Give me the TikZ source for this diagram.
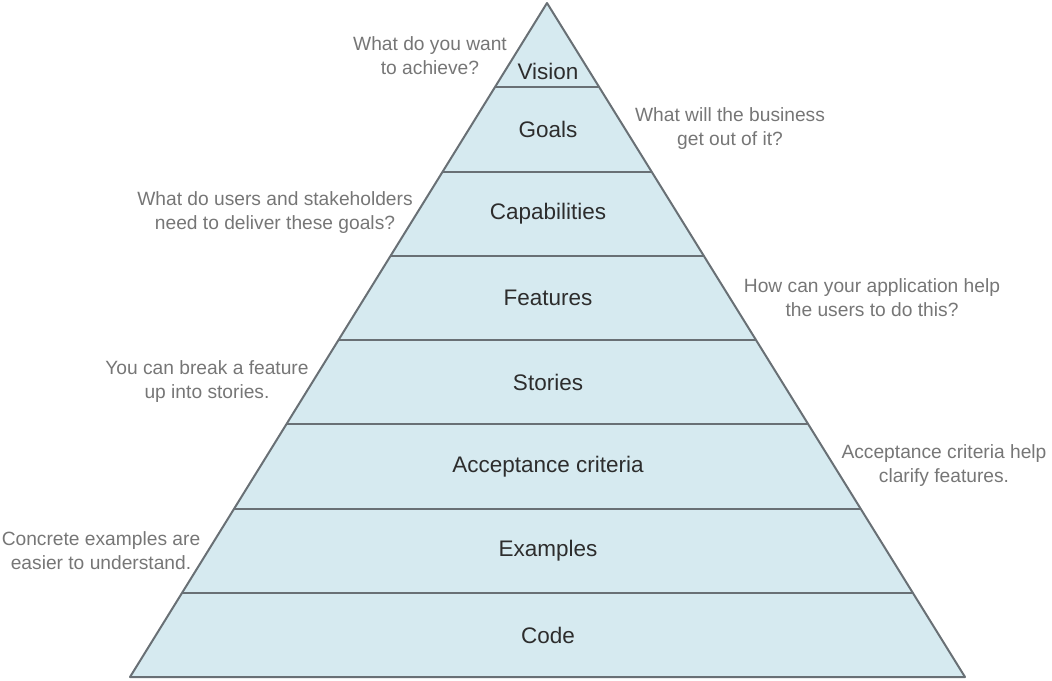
\documentclass[tikz,border=0pt]{standalone}
\usepackage{fontspec}
\setmainfont{Liberation Sans}
\usepackage{tikz}
\usetikzlibrary{calc}

\definecolor{pyrfill}{RGB}{214,234,240}
\definecolor{pyrline}{RGB}{105,112,117}
\definecolor{lvltext}{RGB}{45,45,45}
\definecolor{notetext}{RGB}{118,118,118}

\tikzset{
  level/.style={text=lvltext, font=\fontsize{22.5}{26}\selectfont},
  note/.style={text=notetext, align=center, font=\fontsize{19.2}{24}\selectfont}
}

\begin{document}
\begin{tikzpicture}[x=1pt, y=-1pt, line width=2pt]

\useasboundingbox (0,0) rectangle (1052,680);

% corners of the pyramid
\coordinate (apex) at (547,3);
\coordinate (bl) at (130,677);
\coordinate (br) at (965,677);

% draw pyramid
\filldraw[color=pyrline, fill=pyrfill, line join=round] (apex) -- (bl) -- (br) -- cycle;

% draw level lines
\foreach \k in {1,...,7}
  \draw[color=pyrline] ($(apex)!\k/8!(bl)$) -- ($(apex)!\k/8!(br)$);

% draw level labels
\node[level] (vision) at (548,71) {Vision};
\node[level] (goals) at (548,129) {Goals};
\node[level] (capab) at (548,214) {Capabilities};
\node[level] (feat) at (548,298) {Features};
\node[level] (stories) at (548,382) {Stories};
\node[level] (accept) at (548,467) {Acceptance criteria};
\node[level] (examples) at (548,551) {Examples};
\node[level] (code) at (548,635) {Code};

% draw questions
\node[note] (q-vision) at (430,56) {What do you want\\to achieve?};
\node[note] (q-goals) at (730,129) {What will the business\\get out of it?};
\node[note] (q-capab) at (275,213) {What do users and stakeholders\\need to deliver these goals?};
\node[note] (q-feat) at (872,298) {How can your application help\\the users to do this?};
\node[note] (q-stories) at (207,382) {You can break a feature\\up into stories.};
\node[note] (q-accept) at (944,466) {Acceptance criteria help\\clarify features.};
\node[note] (q-examples) at (101,551) {Concrete examples are\\easier to understand.};

\end{tikzpicture}
\end{document}
